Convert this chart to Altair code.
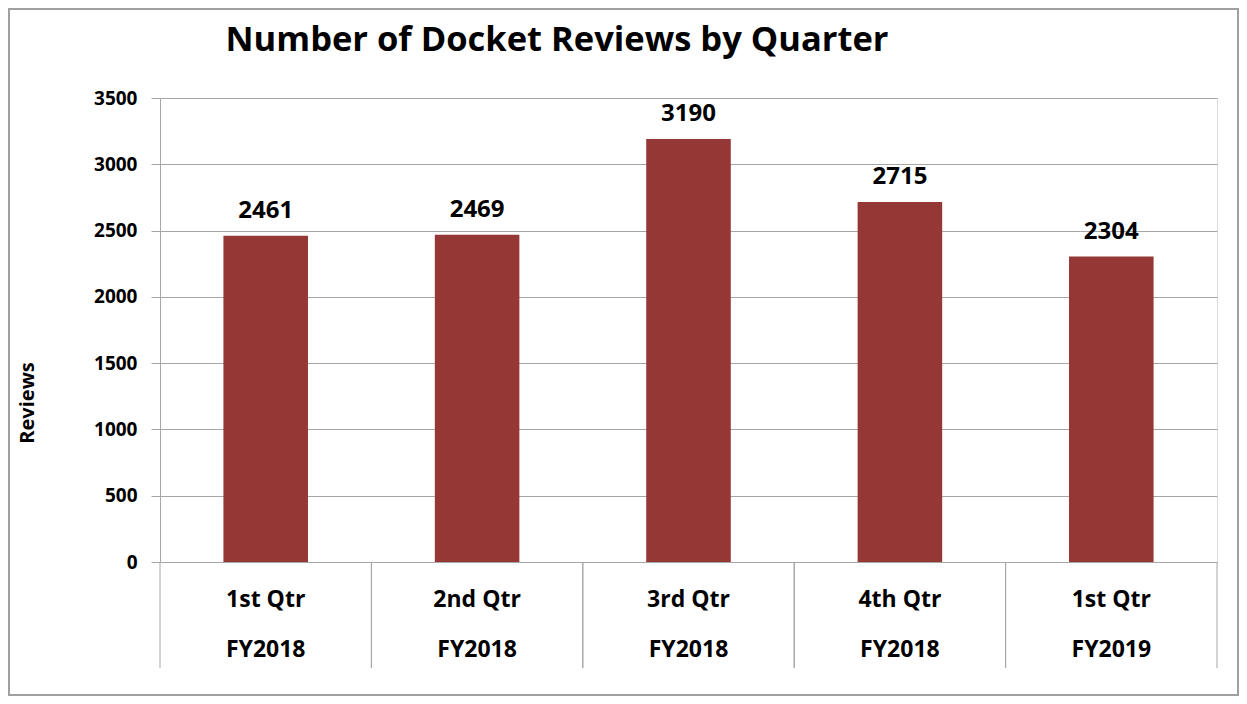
import altair as alt
import pandas as pd

quarters = ["1st Qtr", "2nd Qtr", "3rd Qtr", "4th Qtr", "1st Qtr"]
fiscal_years = ["FY2018", "FY2018", "FY2018", "FY2018", "FY2019"]
reviews = [2461, 2469, 3190, 2715, 2304]
y_ticks = [0, 500, 1000, 1500, 2000, 2500, 3000, 3500]

df = pd.DataFrame({
    "key": [f"{q} {f}" for q, f in zip(quarters, fiscal_years)],
    "qtr": quarters,
    "fy": fiscal_years,
    "reviews": reviews,
})
order = list(df["key"])

FONT = "Open Sans"
BAR = "#953735"
GRID = "#a6a6a6"
W, H = 1057, 464

xenc = alt.X("key:N", sort=order, axis=None,
             scale=alt.Scale(paddingInner=0, paddingOuter=0))

base = alt.Chart(df)

bars = base.mark_bar(color=BAR, width={"band": 0.4}).encode(
    x=xenc,
    y=alt.Y("reviews:Q",
            scale=alt.Scale(domain=[0, 3500], nice=False),
            axis=alt.Axis(values=y_ticks, format="d", title=None, grid=True,
                          gridColor=GRID, domainColor=GRID, tickColor=GRID,
                          tickSize=9, labelPadding=14, labelFont=FONT,
                          labelFontSize=19, labelFontWeight="bold",
                          labelColor="#000000")),
)

labels = base.mark_text(font=FONT, fontSize=24, fontWeight="bold", dy=-25,
                        color="#000000").encode(
    x=alt.X("key:N", sort=order), y="reviews:Q", text="reviews:Q")

sep_left = base.mark_rule(color=GRID, strokeWidth=1).encode(
    x=alt.X("key:N", sort=order, bandPosition=0),
    y=alt.value(H), y2=alt.value(570))
sep_right = base.mark_rule(color=GRID, strokeWidth=1).encode(
    x=alt.X("key:N", sort=order, bandPosition=1),
    y=alt.value(H), y2=alt.value(570))

qtr_text = base.mark_text(font=FONT, fontSize=23, fontWeight="bold",
                          color="#000000", baseline="middle").encode(
    x=alt.X("key:N", sort=order), y=alt.value(502), text="qtr:N")
fy_text = base.mark_text(font=FONT, fontSize=23, fontWeight="bold",
                         color="#000000", baseline="middle").encode(
    x=alt.X("key:N", sort=order), y=alt.value(552), text="fy:N")

one = alt.Chart(alt.Data(values=[{"t": "Number of Docket Reviews by Quarter",
                                  "y": "Reviews"}]))
title = one.mark_text(font=FONT, fontSize=34.5, fontWeight="bold", color="#000000",
                      align="center", baseline="middle").encode(
    x=alt.value(397), y=alt.value(-57), text="t:N")
ytitle = one.mark_text(font=FONT, fontSize=20, fontWeight="bold", color="#000000",
                       angle=270, align="center", baseline="middle").encode(
    x=alt.value(-132), y=alt.value(305), text="y:N")
border = one.mark_rect(filled=False, stroke="#a0a0a0", strokeWidth=2).encode(
    x=alt.value(-151), x2=alt.value(W + 21), y=alt.value(-89), y2=alt.value(H + 133))

chart = alt.layer(bars, labels, sep_left, sep_right, qtr_text, fy_text,
                  title, ytitle, border).properties(
    width=W, height=H,
    autosize=alt.AutoSizeParams(type="none"),
    padding={"left": 152, "top": 90, "right": 22, "bottom": 134},
).configure_view(stroke=None).configure(background="white")

chart.save("out.html", embed_options={"renderer": "svg", "actions": False})
